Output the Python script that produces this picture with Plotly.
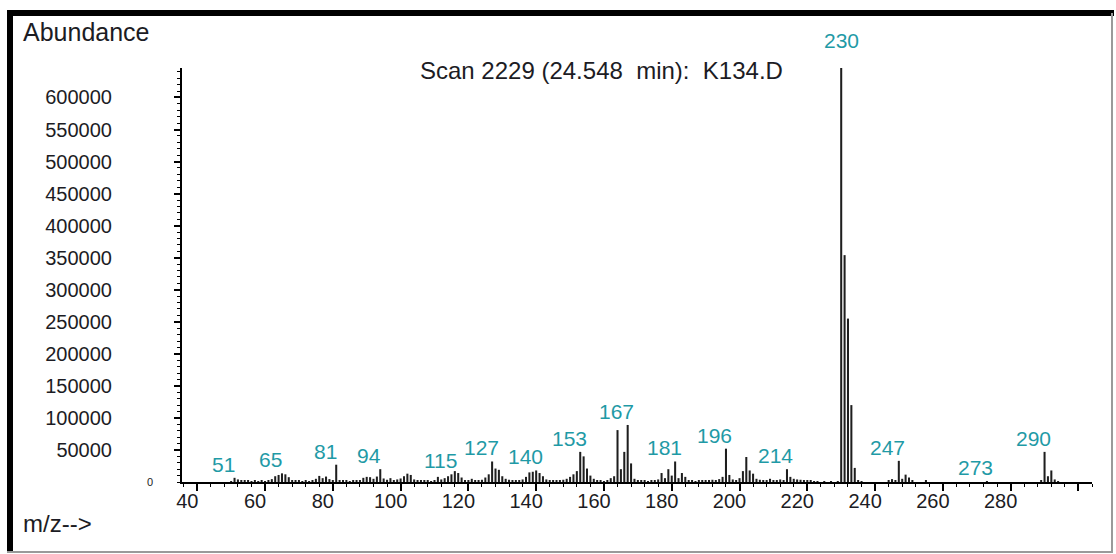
import plotly.graph_objects as go

# Mass spectrum, scan 2229: m/z values and their abundances
mz = [50, 51, 52, 53, 54, 55, 56, 57, 58, 59, 60, 61, 62, 63, 64, 65, 66, 67, 68, 69,
      70, 71, 72, 73, 74, 75, 76, 77, 78, 79, 80, 81, 82, 83, 84, 85, 86, 87, 88, 89,
      90, 91, 92, 93, 94, 95, 96, 97, 98, 99, 100, 101, 102, 103, 104, 105, 106, 107, 108, 109,
      110, 111, 112, 113, 114, 115, 116, 117, 118, 119, 120, 121, 122, 123, 124, 125, 126, 127, 128, 129,
      130, 131, 132, 133, 134, 135, 136, 137, 138, 139, 140, 141, 142, 143, 144, 145, 146, 147, 148, 149,
      150, 151, 152, 153, 154, 155, 156, 157, 158, 159, 160, 161, 162, 163, 164, 165, 166, 167, 168, 169,
      170, 171, 172, 173, 174, 175, 176, 177, 178, 179, 180, 181, 182, 183, 184, 185, 186, 187, 188, 189,
      190, 191, 192, 193, 194, 195, 196, 197, 198, 199, 200, 201, 202, 203, 204, 205, 206, 207, 208, 209,
      210, 211, 212, 213, 214, 215, 216, 217, 218, 219, 220, 221, 222, 223, 225, 227, 229,
      230, 231, 232, 233, 234, 235, 236, 244, 245, 246, 247, 248, 249, 250, 251, 255, 273,
      289, 290, 291, 292, 293, 294]
abundance = [1500, 6500, 4000, 2500, 2000, 3000, 1500, 2500, 1500, 2000, 1500, 3000, 4500, 9000, 11000, 13500, 12000, 7500, 3000, 2500,
             2000, 1500, 2000, 1500, 2500, 5000, 9500, 6000, 8500, 4500, 2500, 27000, 3000, 2000, 2500, 1500, 2500, 3000, 2000, 6500,
             8000, 7500, 5000, 8500, 20000, 5500, 3500, 6000, 2500, 4000, 5500, 9000, 13000, 11000, 4000, 2500, 2000, 2500, 2000, 1500,
             3000, 8000, 4000, 6000, 9000, 12000, 17000, 14000, 7000, 3000, 2500, 5000, 3000, 2500, 3500, 7000, 12000, 32000, 21000, 19000,
             9000, 5000, 3500, 2500, 3000, 2000, 4000, 8000, 15000, 16000, 18000, 14000, 9000, 4000, 3000, 2500, 3000, 2000, 3500, 5000,
             8000, 12000, 17000, 47000, 40000, 21000, 10000, 5000, 3000, 2000, 1500, 3000, 6000, 9000, 81000, 20000, 47000, 89000, 29000, 5000,
             2500, 2000, 2500, 1500, 2000, 2500, 4000, 14000, 6000, 20000, 10000, 32000, 6000, 14000, 8000, 3000, 2000, 1500, 3000, 2500,
             3000, 2000, 3500, 3000, 4500, 8000, 52000, 11000, 4000, 3000, 6000, 17000, 39000, 18000, 13000, 5000, 3500, 3000, 2500, 5000,
             3000, 2500, 4000, 3000, 20000, 8000, 5000, 4000, 3500, 2500, 2000, 2500, 1500, 1500, 1000, 1000, 1500,
             646000, 354000, 255000, 120000, 22000, 3000, 1500, 2000, 4500, 3000, 33000, 5000, 11500, 7000, 2000, 2500, 1500,
             3000, 47000, 9000, 18000, 4000, 1500]

# Labelled peaks
peak_labels = [51, 65, 81, 94, 115, 127, 140, 153, 167, 181, 196, 214, 230, 247, 273, 290]

# Axis ticks
x_tick_vals = [40, 60, 80, 100, 120, 140, 160, 180, 200, 220, 240, 260, 280, 300]
x_tick_text = ["40", "60", "80", "100", "120", "140", "160", "180", "200", "220", "240", "260", "280", ""]
y_tick_vals = [50000, 100000, 150000, 200000, 250000, 300000, 350000, 400000, 450000,
               500000, 550000, 600000]
y_tick_text = [str(v) for v in y_tick_vals]

W, H = 1116, 554
ML, MR, MT, MB = 182, 24, 68, 72
PW, PH = W - ML - MR, H - MT - MB


def fx(px):
    return (px - ML) / PW


def fy(py):
    return (H - MB - py) / PH


FONT = "Liberation Sans, Arial, sans-serif"
TEAL = "#1f9aa6"
INK = "#1c1c24"

fig = go.Figure()
fig.add_trace(go.Bar(
    x=mz, y=abundance, width=0.6,
    marker=dict(color="#1e1e1e", line=dict(width=0)),
    hoverinfo="x+y",
))

lookup = dict(zip(mz, abundance))
annotations = []
for m in peak_labels:
    top = m == 230
    annotations.append(dict(
        x=m, y=lookup[m], xref="x", yref="y", text=str(m), showarrow=False,
        xanchor="center", yanchor="bottom",
        xshift=0 if top else -11, yshift=14 if top else 0,
        font=dict(family=FONT, size=21, color=TEAL),
    ))

annotations += [
    dict(x=fx(418), y=fy(70), xref="paper", yref="paper", xanchor="left", yanchor="middle",
         text="Scan 2229 (24.548\u00a0 min):\u00a0 K134.D", showarrow=False,
         font=dict(family=FONT, size=24, color=INK)),
    dict(x=fx(21), y=fy(32), xref="paper", yref="paper", xanchor="left", yanchor="middle",
         text="Abundance", showarrow=False, font=dict(family=FONT, size=25, color=INK)),
    dict(x=fx(21), y=fy(523), xref="paper", yref="paper", xanchor="left", yanchor="middle",
         text="m/z-->", showarrow=False, font=dict(family=FONT, size=24, color=INK)),
    dict(x=fx(150), y=0, xref="paper", yref="y", xanchor="center", yanchor="middle",
         text="0", showarrow=False, font=dict(family=FONT, size=11, color=INK)),
]

# Frame: heavy black top/left edges, thin grey right/bottom edges
shapes = [
    dict(type="line", xref="paper", yref="paper", x0=fx(10), x1=fx(10), y0=fy(10), y1=fy(553),
         line=dict(color="black", width=6)),
    dict(type="line", xref="paper", yref="paper", x0=fx(7), x1=fx(1114), y0=fy(13), y1=fy(13),
         line=dict(color="black", width=6)),
    dict(type="line", xref="paper", yref="paper", x0=fx(1112), x1=fx(1112), y0=fy(13), y1=fy(552),
         line=dict(color="#9a9a9a", width=2)),
    dict(type="line", xref="paper", yref="paper", x0=fx(7), x1=fx(1113), y0=fy(552), y1=fy(552),
         line=dict(color="#9a9a9a", width=2)),
]

fig.update_layout(
    width=W, height=H,
    margin=dict(l=ML, r=MR, t=MT, b=MB),
    paper_bgcolor="white", plot_bgcolor="white",
    showlegend=False,
    annotations=annotations,
    shapes=shapes,
    font=dict(family=FONT, color=INK),
    xaxis=dict(
        range=[35.5, 304], showgrid=False, zeroline=False,
        showline=True, linecolor="black", linewidth=2,
        ticks="outside", ticklen=7, tickwidth=1.5, tickcolor="black",
        tickvals=x_tick_vals, ticktext=x_tick_text,
        tickfont=dict(family=FONT, size=20, color=INK),
        ticklabelshift=-10, ticklabelstandoff=-7,
        minor=dict(dtick=4, tick0=40, ticks="outside", ticklen=3, tickwidth=1.2, tickcolor="black"),
    ),
    yaxis=dict(
        range=[0, 646000], showgrid=False, zeroline=False,
        showline=True, linecolor="black", linewidth=2,
        ticks="outside", ticklen=6, tickwidth=1.5, tickcolor="black",
        tickvals=y_tick_vals, ticktext=y_tick_text,
        tickfont=dict(family=FONT, size=20, color=INK),
        ticklabelstandoff=58,
        minor=dict(dtick=10000, tick0=0, ticks="outside", ticklen=3, tickwidth=1, tickcolor="black"),
    ),
)

fig.write_html("out.html")
